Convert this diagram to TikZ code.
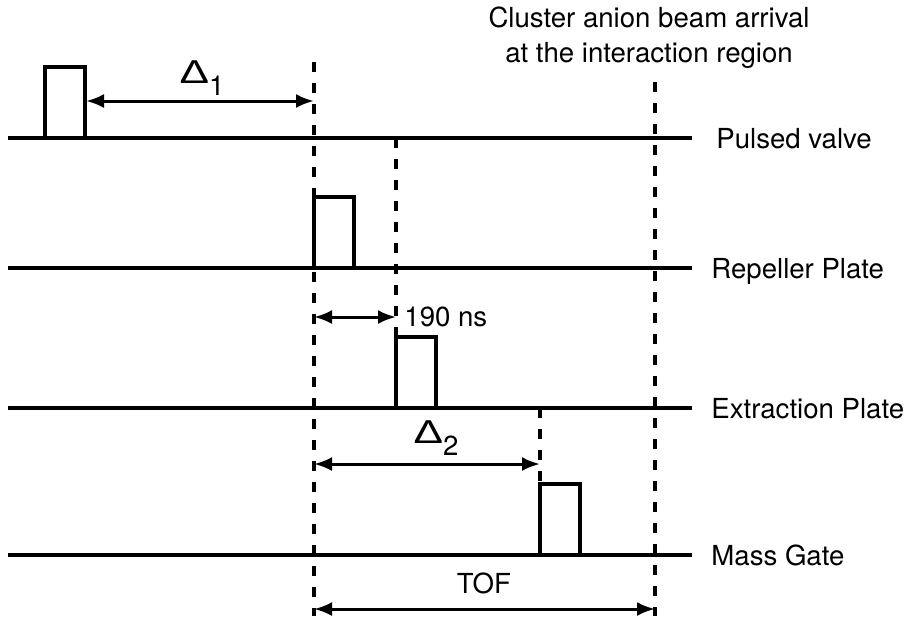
\documentclass[tikz,border=0pt]{standalone}
\usepackage{fontspec}
\usepackage{graphicx}
\setmainfont{TeX Gyre Heros}
\newfontfamily\grk{Liberation Sans}
\usetikzlibrary{arrows.meta,positioning}
\newcommand{\dly}[1]{\raisebox{6pt}{\grk\scalebox{1.6}[1.2]{Δ}}#1}

\begin{document}
\begin{tikzpicture}[
  x=0.5pt, y=-0.5pt,
  font=\fontsize{13.8}{17.5}\selectfont,
  every node/.style={inner sep=0pt},
  trace/.style={line width=2pt},
  pulse/.style={line width=2pt, line join=miter},
  marker/.style={line width=2pt, dash pattern=on 5pt off 5.5pt},
  span/.style={{Latex[length=9pt,width=7pt]}-{Latex[length=9pt,width=7pt]},
               line width=1.5pt},
  chan/.style={anchor=base west},
  lbl/.style={anchor=base},
]
\useasboundingbox (0,0) rectangle (914,618);

% ---------- the four channels ----------
\foreach \nm/\y/\xl/\xp/\txt in {
  valve/138/716/45/Pulsed valve,
  rep/268/711/314/Repeller Plate,
  ext/408/711/396/Extraction Plate,
  gate/555/711/540/Mass Gate} {
  \node[chan] (\nm) at (\xl,\y+10.5) {\txt};
  \coordinate (\nm-l) at (8,\y);
  \coordinate (\nm-r) at (692,\y);
  \coordinate (\nm-up) at (\xp,\y);
  \coordinate (\nm-dn) at (\xp+40,\y);
  \draw[trace] (\nm-l) -- (\nm-r);
  \draw[pulse] (\nm-up) -- ++(0,-71) coordinate (\nm-top) -- ++(40,0) -- (\nm-dn);
}

% ---------- timing markers ----------
\coordinate (m1-a) at (314,62);
\coordinate (m1-b) at (314,616);
\coordinate (m4-a) at (655,82);
\coordinate (m4-b) at (655,616);
\draw[marker] (m1-a) -- (m1-b);
\draw[marker] (valve-r -| ext-up) -- (ext-top);
\draw[marker] (gate-up |- ext-r) -- (gate-top);
\draw[marker] (m4-a) -- (m4-b);

\node[align=center] (arrival) at (649,38)
  {Cluster anion beam arrival\\at the interaction region};

% ---------- delays ----------
\coordinate (d1-a) at (86,101);
\coordinate (d1-b) at (314,101);
\draw[span] (d1-a) -- (d1-b);
\node[lbl] (delta1) at (202,95) {\dly{1}};

\coordinate (d0-a) at (314,317);
\coordinate (d0-b) at (396,317);
\draw[span] (d0-a) -- (d0-b);
\node[anchor=base west] (ns) at (404,326) {190 ns};

\coordinate (d2-a) at (314,464);
\coordinate (d2-b) at (540,464);
\draw[span] (d2-a) -- (d2-b);
\node[lbl] (delta2) at (436,455) {\dly{2}};

\coordinate (tof-a) at (314,609);
\coordinate (tof-b) at (655,609);
\draw[span] (tof-a) -- (tof-b);
\node[lbl] (tof) at (484,593) {TOF};
\end{tikzpicture}
\end{document}
